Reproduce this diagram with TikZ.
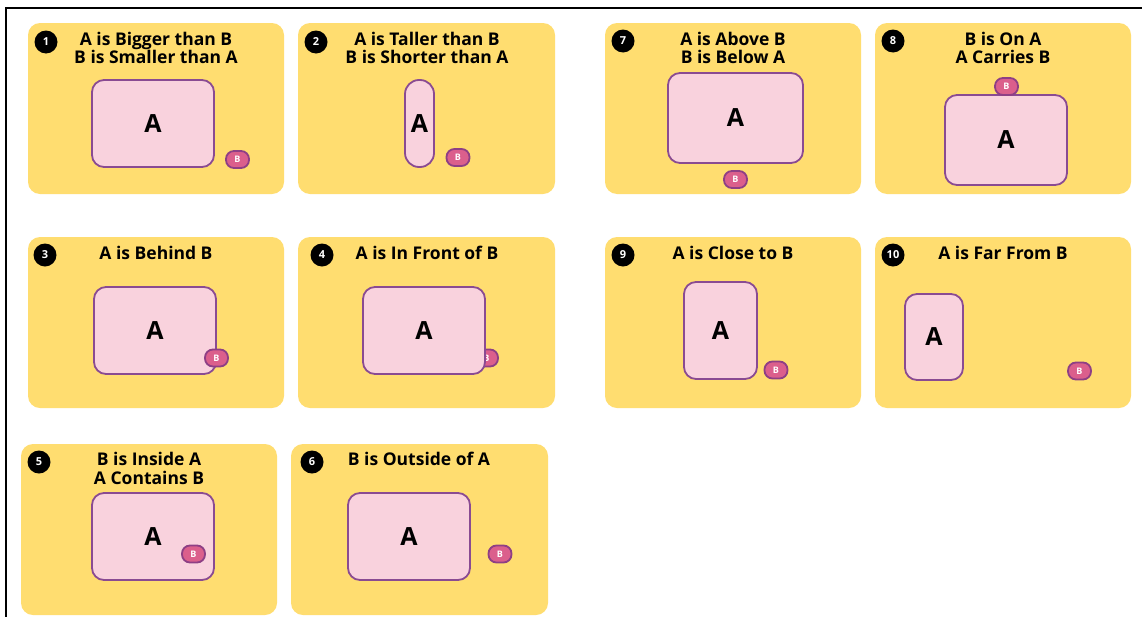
\documentclass[tikz,border=0pt]{standalone}
\usepackage{fontspec}
\setmainfont{Open Sans}
\definecolor{cardyellow}{HTML}{FFDD70}
\definecolor{apink}{HTML}{F9D2DD}
\definecolor{aborder}{HTML}{8A4B92}
\definecolor{bfill}{HTML}{DB5F8C}
\definecolor{bborder}{HTML}{8E3F85}
\tikzset{
  card/.style={rectangle, fill=cardyellow, rounded corners=12pt, minimum width=256pt, minimum height=171pt, inner sep=0pt},
  abox/.style={rectangle, fill=apink, draw=aborder, line width=1.8pt, rounded corners=12pt, inner sep=0pt, font=\fontsize{25}{25}\selectfont\bfseries},
  bpill/.style={rectangle, fill=bfill, draw=bborder, line width=1.8pt, rounded corners=8pt, minimum width=23pt, minimum height=17pt, inner sep=0pt, text=white, font=\fontsize{9}{9}\selectfont\bfseries},
  numdot/.style={circle, fill=black, minimum size=23pt, inner sep=0pt, text=white, font=\fontsize{11}{11}\selectfont\bfseries},
  ttl/.style={align=center, inner sep=0pt, font=\fontsize{17.5}{18.5}\selectfont\bfseries}
}
\begin{document}
\begin{tikzpicture}[x=1pt,y=-1pt]
\useasboundingbox (0,0) rectangle (1142,616);
\fill[white] (0,0) rectangle (1142,616);
\coordinate (fl) at (6,620);
\coordinate (fc) at (6,8);
\coordinate (fr) at (1146,8);
\draw[line width=2.5pt] (fl) -- (fc) -- (fr);

% cards
\node[card] (c1) at (156,108.5) {};
\node[card, minimum width=257pt] (c2) at (426.5,108.5) {};
\node[card] (c7) at (733,108.5) {};
\node[card] (c8) at (1003,108.5) {};
\node[card] (c3) at (156,322.5) {};
\node[card, minimum width=257pt] (c4) at (426.5,322.5) {};
\node[card] (c9) at (733,322.5) {};
\node[card] (c10) at (1003,322.5) {};
\node[card] (c5) at (149,529.5) {};
\node[card, minimum width=257pt] (c6) at (419.5,529.5) {};

% numbers
\node[numdot] (n1) at (46,42) {1};
\node[numdot] (n2) at (316,42) {2};
\node[numdot] (n7) at (623,41) {7};
\node[numdot] (n8) at (893,41) {8};
\node[numdot] (n3) at (45,255) {3};
\node[numdot] (n4) at (322,255) {4};
\node[numdot] (n9) at (623,255) {9};
\node[numdot] (n10) at (893,255) {10};
\node[numdot] (n5) at (39,462) {5};
\node[numdot] (n6) at (312,462) {6};

% titles
\node[ttl] (t1) at (156,48) {A is Bigger than B\\B is Smaller than A};
\node[ttl] (t2) at (427,48) {A is Taller than B\\B is Shorter than A};
\node[ttl] (t7) at (733,48) {A is Above B\\B is Below A};
\node[ttl] (t8) at (1003,48) {B is On A\\A Carries B};
\node[ttl] (t3) at (156,253) {A is Behind B};
\node[ttl] (t4) at (427,253) {A is In Front of B};
\node[ttl] (t9) at (733,253) {A is Close to B};
\node[ttl] (t10) at (1003,253) {A is Far From B};
\node[ttl] (t5) at (149,468.5) {B is Inside A\\A Contains B};
\node[ttl] (t6) at (419,459) {B is Outside of A};

% 1
\node[abox, minimum width=122pt, minimum height=87pt] (a1) at (153,123.5) {A};
\node[bpill] (b1) at (237.5,159.5) {B};
% 2
\node[abox, minimum width=29pt, minimum height=87pt, rounded corners=14pt] (a2) at (419.5,123.5) {A};
\node[bpill] (b2) at (458,157.5) {B};
% 7
\node[abox, minimum width=135pt, minimum height=90pt] (a7) at (735.5,118) {A};
\node[bpill] (b7) at (735.5,179.5) {B};
% 8
\node[abox, minimum width=122pt, minimum height=90pt] (a8) at (1006,140) {A};
\node[bpill] (b8) at (1006.5,86.5) {B};
% 3
\node[abox, minimum width=122pt, minimum height=87pt] (a3) at (155,330.5) {A};
\node[bpill] (b3) at (216.5,358) {B};
% 4 (B behind A)
\node[bpill] (b4) at (486.5,358) {B};
\node[abox, minimum width=122pt, minimum height=87pt] (a4) at (424,330.5) {A};
% 9
\node[abox, minimum width=73pt, minimum height=97pt] (a9) at (720.5,330.5) {A};
\node[bpill] (b9) at (776,370) {B};
% 10
\node[abox, minimum width=58pt, minimum height=86pt] (a10) at (934,337) {A};
\node[bpill] (b10) at (1079.5,371) {B};
% 5
\node[abox, minimum width=122pt, minimum height=87pt] (a5) at (153,536.5) {A};
\node[bpill] (b5) at (193.5,554) {B};
% 6
\node[abox, minimum width=122pt, minimum height=87pt] (a6) at (409,536.5) {A};
\node[bpill] (b6) at (500,554) {B};
\end{tikzpicture}
\end{document}
